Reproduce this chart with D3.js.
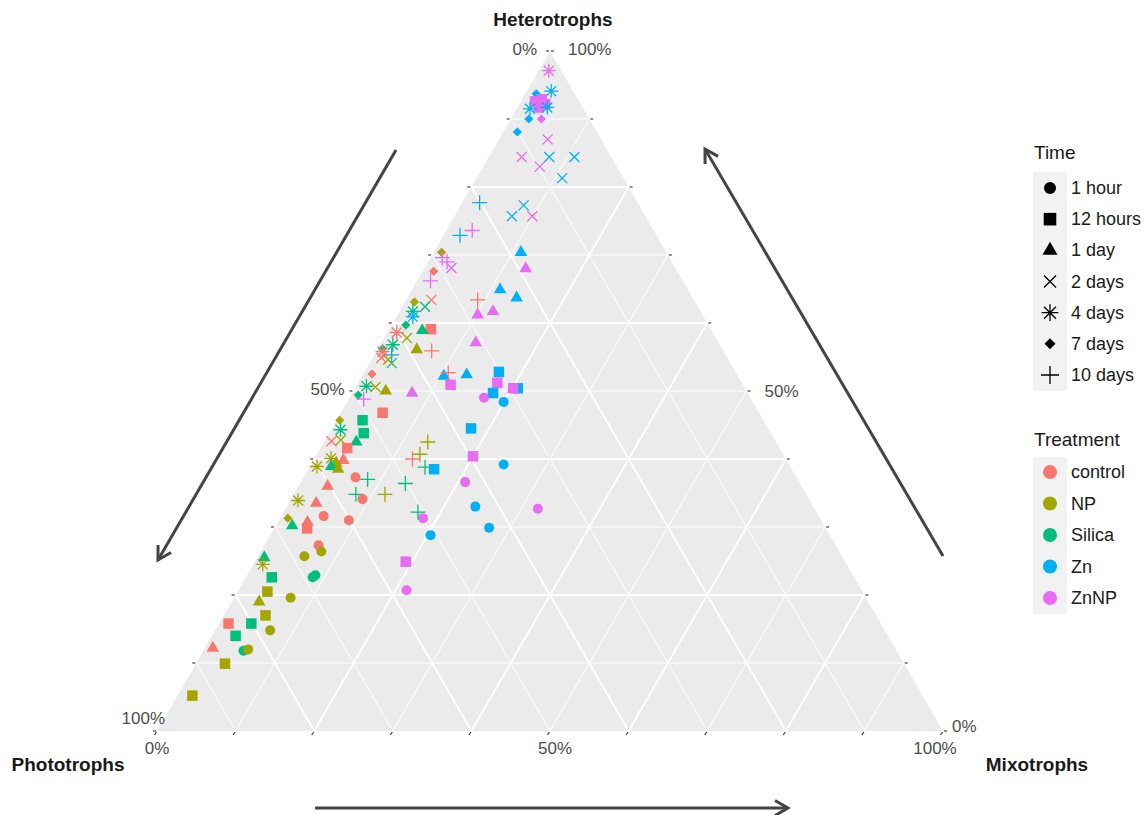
<!DOCTYPE html>
<html>
<head>
<meta charset="utf-8">
<script src="https://cdn.jsdelivr.net/npm/d3@7"></script>
<style>
  body { margin: 0; background: #fff; }
  text { font-family: "Liberation Sans", Arial, sans-serif; }
</style>
</head>
<body>
<div id="chart"></div>
<script>
const treatments = ['control', 'NP', 'Silica', 'Zn', 'ZnNP'];
const treatmentColors = ['#F8766D', '#A3A500', '#00BF7D', '#00B0F6', '#E76BF3'];
const times = ['1 hour', '12 hours', '1 day', '2 days', '4 days', '7 days', '10 days'];
const tickValues = [0, 50, 100];
const gridValues = [10, 20, 30, 40, 50, 60, 70, 80, 90];
const tickMarks = [0, 10, 20, 30, 40, 50, 60, 70, 80, 90, 100];

// [treatment, time, heterotrophs %, mixotrophs %]; phototrophs is the remainder
const samples = [
  ['ZnNP', '4 days', 97.1, 1.3], ['Zn', '4 days', 94.1, 3.1], ['Zn', '7 days', 93.7, 1.4],
  ['ZnNP', '12 hours', 92.6, 1.8], ['ZnNP', '12 hours', 92.9, 2.5], ['ZnNP', '12 hours', 91.7, 2.7],
  ['ZnNP', '12 hours', 92.2, 3.3], ['Zn', '4 days', 91.5, 1.7], ['Zn', '4 days', 91.7, 3.8],
  ['Zn', '7 days', 90.0, 2.3], ['ZnNP', '7 days', 90.0, 3.9], ['Zn', '7 days', 88.1, 1.8],
  ['ZnNP', '2 days', 87.0, 6.2], ['ZnNP', '2 days', 84.4, 4.2], ['Zn', '2 days', 84.4, 7.7],
  ['Zn', '2 days', 84.4, 10.9], ['ZnNP', '2 days', 83.0, 7.2], ['Zn', '2 days', 81.3, 10.9],
  ['Zn', '2 days', 77.3, 8.0], ['Zn', '2 days', 75.7, 7.3], ['ZnNP', '2 days', 75.7, 9.9],
  ['Zn', '10 days', 77.7, 2.2], ['ZnNP', '10 days', 73.6, 3.3], ['Zn', '10 days', 72.9, 2.1],
  ['Zn', '1 day', 70.4, 11.1], ['ZnNP', '1 day', 68.0, 12.9], ['NP', '7 days', 70.4, 1.0],
  ['ZnNP', '10 days', 69.6, 1.5], ['ZnNP', '10 days', 69.0, 2.4], ['ZnNP', '2 days', 68.1, 3.4],
  ['control', '7 days', 67.6, 1.4], ['ZnNP', '10 days', 66.2, 1.7], ['Zn', '1 day', 64.9, 11.2],
  ['Zn', '1 day', 63.7, 13.9], ['control', '10 days', 63.4, 9.1], ['ZnNP', '1 day', 61.2, 10.2],
  ['ZnNP', '1 day', 61.7, 11.9], ['ZnNP', '1 day', 57.1, 12.0], ['control', '12 hours', 59.1, 5.3],
  ['control', '10 days', 55.9, 7.0], ['NP', '7 days', 63.1, 1.2], ['control', '2 days', 63.4, 3.2],
  ['Silica', '2 days', 62.4, 2.9], ['Silica', '4 days', 61.7, 1.7], ['Zn', '4 days', 60.9, 2.1],
  ['Silica', '7 days', 59.7, 1.8], ['Silica', '1 day', 58.9, 4.3], ['control', '4 days', 58.6, 1.2],
  ['NP', '2 days', 57.8, 2.9], ['Silica', '4 days', 56.8, 1.6], ['Silica', '7 days', 56.2, 0.6],
  ['NP', '1 day', 56.1, 5.0], ['control', '2 days', 54.9, 1.1], ['Silica', '2 days', 54.1, 2.8],
  ['Zn', '10 days', 55.3, 2.2], ['NP', '2 days', 54.6, 2.1], ['control', '4 days', 55.8, 0.8],
  ['control', '7 days', 52.5, 1.1], ['Silica', '4 days', 50.7, 1.3], ['NP', '2 days', 50.6, 2.5],
  ['NP', '1 day', 50.0, 4.1], ['ZnNP', '1 day', 49.7, 7.6], ['ZnNP', '12 hours', 50.9, 11.9],
  ['Zn', '1 day', 52.2, 10.4], ['control', '10 days', 52.7, 10.7], ['Zn', '1 day', 52.4, 13.2],
  ['Zn', '12 hours', 52.8, 17.1], ['ZnNP', '12 hours', 51.2, 17.7], ['Zn', '12 hours', 49.7, 17.9],
  ['Zn', '12 hours', 50.4, 20.7], ['ZnNP', '12 hours', 50.4, 20.1], ['ZnNP', '1 hour', 49.0, 17.1],
  ['Zn', '1 hour', 48.4, 19.9], ['Zn', '12 hours', 44.5, 17.7], ['ZnNP', '12 hours', 40.4, 20.0],
  ['Zn', '1 hour', 39.2, 24.5], ['ZnNP', '1 hour', 36.6, 20.9], ['Zn', '1 hour', 33.0, 24.0],
  ['ZnNP', '1 hour', 32.7, 32.1], ['Zn', '1 hour', 29.9, 27.3], ['ZnNP', '1 hour', 31.3, 18.2],
  ['Zn', '1 hour', 28.8, 20.4], ['ZnNP', '12 hours', 24.9, 19.2], ['ZnNP', '1 hour', 20.7, 21.4],
  ['Zn', '12 hours', 38.5, 16.0], ['Silica', '10 days', 38.8, 14.7], ['control', '10 days', 40.0, 12.5],
  ['NP', '10 days', 40.7, 13.1], ['NP', '10 days', 42.5, 13.2], ['Silica', '10 days', 36.4, 13.4],
  ['NP', '10 days', 34.8, 11.6], ['Silica', '10 days', 32.2, 17.1], ['control', '12 hours', 46.8, 5.3],
  ['Silica', '7 days', 49.4, 0.9], ['ZnNP', '10 days', 48.8, 1.9], ['NP', '7 days', 45.7, 0.4],
  ['Silica', '12 hours', 45.7, 3.3], ['Silica', '12 hours', 43.8, 4.4], ['Silica', '4 days', 44.3, 1.2],
  ['control', '2 days', 42.6, 0.9], ['NP', '2 days', 42.8, 2.0], ['Silica', '1 day', 42.5, 4.1],
  ['control', '12 hours', 41.6, 3.4], ['NP', '4 days', 40.1, 2.1], ['control', '1 day', 39.8, 3.8],
  ['NP', '4 days', 38.9, 0.9], ['NP', '1 day', 39.4, 3.1], ['Silica', '1 day', 38.9, 2.7],
  ['NP', '1 day', 38.5, 3.8], ['control', '1 hour', 37.3, 6.6], ['Silica', '10 days', 37.0, 8.3],
  ['Silica', '10 days', 34.8, 7.9], ['control', '1 hour', 34.1, 9.1], ['control', '1 day', 36.0, 3.7],
  ['NP', '4 days', 33.9, 1.0], ['control', '1 day', 33.5, 3.5], ['control', '1 hour', 31.6, 5.4],
  ['control', '1 hour', 31.0, 8.9], ['NP', '7 days', 31.3, 1.0], ['Silica', '1 day', 30.2, 2.1],
  ['control', '12 hours', 29.8, 4.2], ['control', '1 day', 30.7, 3.8], ['control', '1 hour', 27.3, 6.9],
  ['NP', '1 hour', 26.4, 7.7], ['Silica', '1 day', 25.5, 0.9], ['NP', '4 days', 24.5, 1.2],
  ['NP', '1 hour', 25.7, 5.9], ['Silica', '12 hours', 22.6, 3.3], ['Silica', '1 hour', 22.6, 8.5],
  ['Silica', '1 hour', 22.9, 8.7], ['NP', '12 hours', 20.5, 3.8], ['NP', '1 day', 19.0, 3.5],
  ['NP', '1 hour', 19.6, 7.2], ['NP', '12 hours', 17.0, 5.3], ['control', '12 hours', 15.8, 1.2],
  ['Silica', '12 hours', 15.8, 4.1], ['Silica', '12 hours', 14.0, 3.0], ['NP', '1 hour', 14.8, 7.0],
  ['control', '1 day', 12.2, 1.0], ['Silica', '1 hour', 11.8, 5.1], ['NP', '1 hour', 12.0, 5.6],
  ['NP', '12 hours', 9.9, 3.7], ['NP', '12 hours', 5.2, 1.9]
];

const width = 1144;
const height = 815;

const svg = d3.select('#chart')
  .append('svg')
  .attr('width', width)
  .attr('height', height);

// Ternary placement: height from heterotrophs, horizontal from mixotrophs + half heterotrophs
const yScale = d3.scaleLinear().domain([0, 100]).range([731, 51]);
const xScale = d3.scaleLinear().domain([0, 100]).range([157, 943]);
const color = d3.scaleOrdinal().domain(treatments).range(treatmentColors);

function pos(h, m) {
  return [xScale(m + h / 2), yScale(h)];
}

// Panel
const corners = [pos(100, 0), pos(0, 0), pos(0, 100)];
svg.append('path')
  .attr('d', d3.line()(corners) + 'Z')
  .attr('fill', '#EBEBEB');

// Grid
const gridLines = [];
for (const v of gridValues) {
  gridLines.push({ v, a: pos(v, 0), b: pos(v, 100 - v) });          // heterotrophs
  gridLines.push({ v, a: pos(100 - v, 0), b: pos(0, 100 - v) });    // phototrophs
  gridLines.push({ v, a: pos(100 - v, v), b: pos(0, v) });          // mixotrophs
}
svg.append('g')
  .selectAll('line')
  .data(gridLines)
  .join('line')
  .attr('x1', d => d.a[0]).attr('y1', d => d.a[1])
  .attr('x2', d => d.b[0]).attr('y2', d => d.b[1])
  .attr('stroke', '#fff')
  .attr('stroke-width', d => d.v % 20 === 0 ? 1.9 : 1);

// Small ticks
const ticks = svg.append('g').attr('stroke', '#333').attr('stroke-width', 1.1);
for (const v of tickMarks) {
  const l = pos(v, 0);
  const r = pos(v, 100 - v);
  const b = pos(0, v);
  ticks.append('line').attr('x1', l[0] - 1).attr('y1', l[1]).attr('x2', l[0] - 4).attr('y2', l[1]);
  ticks.append('line').attr('x1', r[0] + 1).attr('y1', r[1]).attr('x2', r[0] + 4).attr('y2', r[1]);
  ticks.append('line').attr('x1', b[0] - 0.5).attr('y1', b[1] + 1).attr('x2', b[0] - 2.5).attr('y2', b[1] + 4);
}

// Tick labels
const tickFont = '17px';
const tickColor = '#4D4D4D';
const leftOffsets = { 0: [-13, -2], 50: [-9, -2], 100: [8, -13] };
const rightOffsets = { 0: [9, -5], 50: [18, 0], 100: [18, -2] };
const bottomOffsets = { 0: [0, 17], 50: [5, 17], 100: [-8, 17] };
const labels = svg.append('g')
  .attr('font-size', tickFont)
  .attr('fill', tickColor)
  .attr('dominant-baseline', 'central');
for (const v of tickValues) {
  const l = pos(100 - v, 0);   // phototrophs along the left edge
  const r = pos(v, 100 - v);   // heterotrophs along the right edge
  const b = pos(0, v);         // mixotrophs along the bottom
  labels.append('text').attr('x', l[0] + leftOffsets[v][0]).attr('y', l[1] + leftOffsets[v][1])
    .attr('text-anchor', 'end').text(v + '%');
  labels.append('text').attr('x', r[0] + rightOffsets[v][0]).attr('y', r[1] + rightOffsets[v][1])
    .attr('text-anchor', 'start').text(v + '%');
  labels.append('text').attr('x', b[0] + bottomOffsets[v][0]).attr('y', b[1] + bottomOffsets[v][1])
    .attr('text-anchor', 'middle').text(v + '%');
}

// Axis titles
const titles = svg.append('g')
  .attr('font-size', '19px')
  .attr('font-weight', 'bold')
  .attr('fill', '#1A1A1A')
  .attr('text-anchor', 'middle')
  .attr('dominant-baseline', 'central');
titles.append('text').attr('x', 553).attr('y', 19).text('Heterotrophs');
titles.append('text').attr('x', 68).attr('y', 764).text('Phototrophs');
titles.append('text').attr('x', 1037).attr('y', 764).text('Mixotrophs');

// Arrows
function arrow(x1, y1, x2, y2) {
  const ang = Math.atan2(y2 - y1, x2 - x1);
  const len = 15;
  const spread = Math.PI / 6;
  const h1 = [x2 - len * Math.cos(ang - spread), y2 - len * Math.sin(ang - spread)];
  const h2 = [x2 - len * Math.cos(ang + spread), y2 - len * Math.sin(ang + spread)];
  const g = svg.append('g')
    .attr('stroke', '#444')
    .attr('stroke-width', 3)
    .attr('fill', 'none')
    .attr('stroke-linecap', 'butt');
  g.append('line').attr('x1', x1).attr('y1', y1).attr('x2', x2).attr('y2', y2);
  g.append('path').attr('d', `M${h1[0]},${h1[1]}L${x2},${y2}L${h2[0]},${h2[1]}`)
    .attr('stroke-linejoin', 'miter');
}
arrow(396, 150, 158, 560);
arrow(315, 808, 788, 808);
arrow(943, 556, 705, 149);

// Shapes
function shapePath(time, k) {
  const s = k || 1;
  switch (time) {
    case '1 hour': return d3.symbol(d3.symbolCircle, Math.PI * 25 * s * s)();
    case '12 hours': return d3.symbol(d3.symbolSquare, 110 * s * s)();
    case '1 day': return d3.symbol(d3.symbolTriangle, 68 * s * s)();
    case '2 days': {
      const h = 5 * s;
      return `M${-h},${-h}L${h},${h}M${-h},${h}L${h},${-h}`;
    }
    case '4 days': {
      const h = 7 * s, d = 5 * s;
      return `M${-h},0L${h},0M0,${-h}L0,${h}M${-d},${-d}L${d},${d}M${-d},${d}L${d},${-d}`;
    }
    case '7 days': {
      const h = 4.6 * s;
      return `M0,${-h}L${h},0L0,${h}L${-h},0Z`;
    }
    default: {
      const h = 7.5 * s;
      return `M${-h},0L${h},0M0,${-h}L0,${h}`;
    }
  }
}
const stroked = new Set(['2 days', '4 days', '10 days']);

svg.append('g')
  .selectAll('path')
  .data(samples)
  .join('path')
  .attr('transform', d => {
    const p = pos(d[2], d[3]);
    return `translate(${p[0]},${p[1]})`;
  })
  .attr('d', d => shapePath(d[1]))
  .attr('fill', d => stroked.has(d[1]) ? 'none' : color(d[0]))
  .attr('stroke', d => stroked.has(d[1]) ? color(d[0]) : 'none')
  .attr('stroke-width', 1.3);

// Legends
const legendText = '18px';
const timeLegend = svg.append('g');
timeLegend.append('text').attr('x', 1034).attr('y', 152)
  .attr('font-size', '19px').attr('fill', '#1A1A1A').attr('dominant-baseline', 'central').text('Time');
const timeY = d3.scalePoint().domain(times).range([188, 375]);
timeLegend.append('rect').attr('x', 1033).attr('y', 172).attr('width', 34).attr('height', 219).attr('fill', '#F2F2F2');
const timeItems = timeLegend.selectAll('g.item').data(times).join('g')
  .attr('class', 'item')
  .attr('transform', d => `translate(1050,${timeY(d)})`);
timeItems.append('path')
  .attr('d', d => shapePath(d, 1.2))
  .attr('fill', d => stroked.has(d) ? 'none' : '#000')
  .attr('stroke', d => stroked.has(d) ? '#000' : 'none')
  .attr('stroke-width', 1.3);
timeItems.append('text').attr('x', 21).attr('y', 0)
  .attr('font-size', legendText).attr('fill', '#1A1A1A').attr('dominant-baseline', 'central')
  .text(d => d);

const trtLegend = svg.append('g');
trtLegend.append('text').attr('x', 1034).attr('y', 439)
  .attr('font-size', '19px').attr('fill', '#1A1A1A').attr('dominant-baseline', 'central').text('Treatment');
const trtY = d3.scalePoint().domain(treatments).range([472, 598]);
trtLegend.append('rect').attr('x', 1033).attr('y', 457).attr('width', 34).attr('height', 157).attr('fill', '#F2F2F2');
const trtItems = trtLegend.selectAll('g.item').data(treatments).join('g')
  .attr('class', 'item')
  .attr('transform', d => `translate(1050,${trtY(d)})`);
trtItems.append('circle').attr('r', 7).attr('fill', d => color(d));
trtItems.append('text').attr('x', 21).attr('y', 0)
  .attr('font-size', legendText).attr('fill', '#1A1A1A').attr('dominant-baseline', 'central')
  .text(d => d);
</script>
</body>
</html>
